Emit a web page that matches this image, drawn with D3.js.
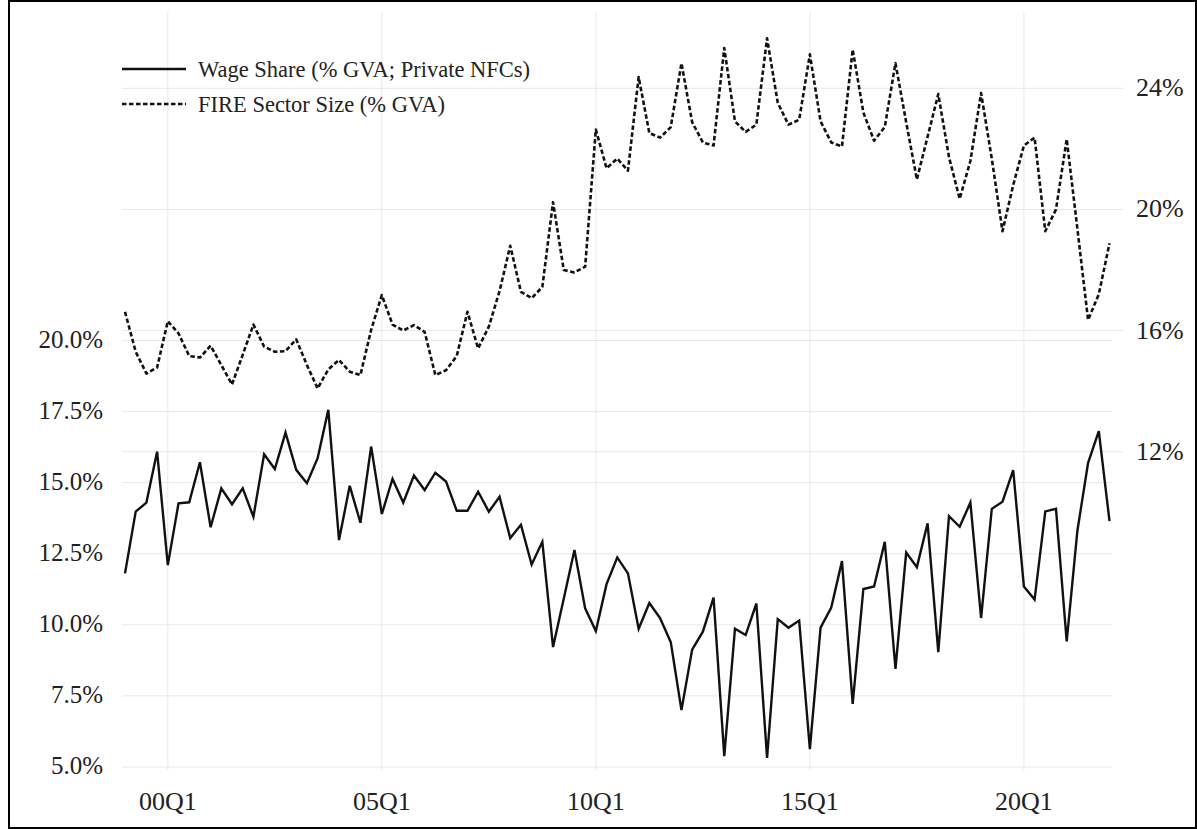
<!DOCTYPE html>
<html>
<head>
<meta charset="utf-8">
<script src="https://cdn.jsdelivr.net/npm/d3@7"></script>
<style>
  body { margin: 0; background: #fff; }
</style>
</head>
<body>
<div id="chart"></div>
<script>
// quarters 1999Q1 .. 2022Q1
const startYear = 1999, nQuarters = 93;
const quarters = d3.range(nQuarters).map(i => {
	const y = startYear + Math.floor(i / 4);
	return String(y % 100).padStart(2, "0") + "Q" + (i % 4 + 1);
});

// Wage share (% GVA; private NFCs), left axis
const wageShare = [
	11.81, 13.98, 14.30, 16.09, 12.10, 14.27, 14.31, 15.72, 13.43, 14.80,
	14.24, 14.80, 13.80, 16.00, 15.48, 16.76, 15.45, 14.98, 15.86, 17.56,
	12.98, 14.89, 13.59, 16.27, 13.90, 15.13, 14.30, 15.25, 14.74, 15.35,
	15.04, 14.01, 14.01, 14.68, 13.98, 14.50, 13.05, 13.52, 12.12, 12.92,
	9.22, 10.92, 12.63, 10.58, 9.78, 11.43, 12.37, 11.81, 9.86, 10.77,
	10.24, 9.39, 7.00, 9.13, 9.76, 10.96, 5.38, 9.86, 9.64, 10.75,
	5.32, 10.20, 9.90, 10.15, 5.63, 9.90, 10.61, 12.24, 7.22, 11.26,
	11.35, 12.92, 8.45, 12.54, 12.03, 13.57, 9.04, 13.82, 13.45, 14.30,
	10.24, 14.08, 14.33, 15.44, 11.35, 10.89, 13.99, 14.08, 9.42, 13.31,
	15.70, 16.81, 13.65
];

// FIRE sector size (% GVA), right axis
const fireSize = [
	16.62, 15.30, 14.58, 14.78, 16.31, 15.91, 15.16, 15.11, 15.50, 14.86,
	14.22, 15.20, 16.20, 15.47, 15.30, 15.32, 15.71, 14.86, 14.09, 14.72,
	15.03, 14.64, 14.53, 16.02, 17.17, 16.20, 16.00, 16.18, 15.96, 14.53,
	14.69, 15.16, 16.62, 15.41, 16.13, 17.30, 18.80, 17.28, 17.07, 17.44,
	20.24, 18.00, 17.92, 18.11, 22.64, 21.36, 21.68, 21.28, 24.37, 22.52,
	22.37, 22.72, 24.83, 22.88, 22.21, 22.11, 25.33, 22.91, 22.56, 22.80,
	25.65, 23.52, 22.80, 22.96, 25.12, 22.91, 22.21, 22.08, 25.28, 23.20,
	22.27, 22.72, 24.83, 22.88, 20.99, 22.40, 23.81, 21.73, 20.35, 21.60,
	23.84, 21.68, 19.28, 20.80, 22.11, 22.37, 19.28, 20.00, 22.32, 19.36,
	16.35, 17.20, 18.88
];

const xTicks = ["00Q1", "05Q1", "10Q1", "15Q1", "20Q1"];
const leftTicks = [5, 7.5, 10, 12.5, 15, 17.5, 20];
const rightTicks = [12, 16, 20, 24];
const seriesNames = ["Wage Share (% GVA; Private NFCs)", "FIRE Sector Size (% GVA)"];

const W = 1197, H = 829;
const plot = { left: 125, right: 1110, top: 12, bottom: 770 };
const FONT = "'Liberation Serif', 'DejaVu Serif', serif";

const svg = d3.select("#chart").append("svg")
	.attr("width", W)
	.attr("height", H)
	.attr("font-family", FONT);

svg.append("rect").attr("width", W).attr("height", H).attr("fill", "#fff");

// scales
const x = d3.scalePoint().domain(quarters).range([plot.left, 1109.5]);
const yL = d3.scaleLinear().domain([5, 20]).range([767, 340.5]);
const yR = d3.scaleLinear().domain([12, 24]).range([451.7, 88.3]);

const grid = svg.append("g").attr("class", "grid")
	.style("stroke", "#e8e8e8").style("stroke-width", 1);

// vertical grid
grid.selectAll(".vgrid").data(xTicks).enter().append("line")
	.attr("x1", d => x(d)).attr("x2", d => x(d))
	.attr("y1", plot.top).attr("y2", plot.bottom);

// left grid
grid.selectAll(".lgrid").data(leftTicks).enter().append("line")
	.attr("x1", plot.left - 3).attr("x2", plot.right + 2)
	.attr("y1", d => yL(d)).attr("y2", d => yL(d));

// right grid + small outside ticks
grid.selectAll(".rgrid").data(rightTicks).enter().append("line")
	.attr("x1", plot.left - 3).attr("x2", plot.right + 13)
	.attr("y1", d => yR(d)).attr("y2", d => yR(d));

// axis labels
svg.append("g").selectAll("text").data(leftTicks).enter().append("text")
	.attr("x", 103).attr("y", d => yL(d) + 7)
	.attr("text-anchor", "end")
	.attr("font-family", FONT)
	.attr("fill", "#222")
	.style("font-size", "25px")
	.text(d => d.toFixed(1) + "%");

svg.append("g").selectAll("text").data(rightTicks).enter().append("text")
	.attr("x", 1136).attr("y", d => yR(d) + 8)
	.attr("font-family", FONT)
	.attr("fill", "#222")
	.style("font-size", "26px")
	.text(d => d + "%");

svg.append("g").selectAll("text").data(xTicks).enter().append("text")
	.attr("x", d => x(d)).attr("y", 810)
	.attr("text-anchor", "middle")
	.attr("font-family", FONT)
	.attr("fill", "#222")
	.style("font-size", "26px")
	.text(d => d);

// lines
const lineL = d3.line().x((d, i) => x(quarters[i])).y(d => yL(d));
const lineR = d3.line().x((d, i) => x(quarters[i])).y(d => yR(d));

svg.append("path").datum(fireSize)
	.attr("d", lineR)
	.attr("fill", "none")
	.attr("stroke", "#111")
	.attr("stroke-width", 2.6)
	.attr("stroke-dasharray", "4.5,2.5")
	.attr("stroke-linejoin", "round");

svg.append("path").datum(wageShare)
	.attr("d", lineL)
	.attr("fill", "none")
	.attr("stroke", "#111")
	.attr("stroke-width", 2.4)
	.attr("stroke-linejoin", "miter");

// legend
const legend = svg.append("g").attr("class", "legend");
seriesNames.forEach((name, i) => {
	const ly = 69 + i * 35;
	legend.append("line")
		.attr("x1", 122).attr("x2", 186)
		.attr("y1", ly).attr("y2", ly)
		.attr("stroke", "#111")
		.attr("stroke-width", 2.5)
		.attr("stroke-dasharray", i === 1 ? "4.5,2.5" : null);
	legend.append("text")
		.attr("x", 198).attr("y", ly + 8)
		.attr("font-family", FONT)
		.attr("fill", "#222")
		.style("font-size", "22.5px")
		.text(name);
});

// frame
svg.append("rect")
	.attr("x", 9).attr("y", 1)
	.attr("width", W - 10).attr("height", H - 2)
	.attr("fill", "none")
	.attr("stroke", "#000")
	.attr("stroke-width", 2);
</script>
</body>
</html>
